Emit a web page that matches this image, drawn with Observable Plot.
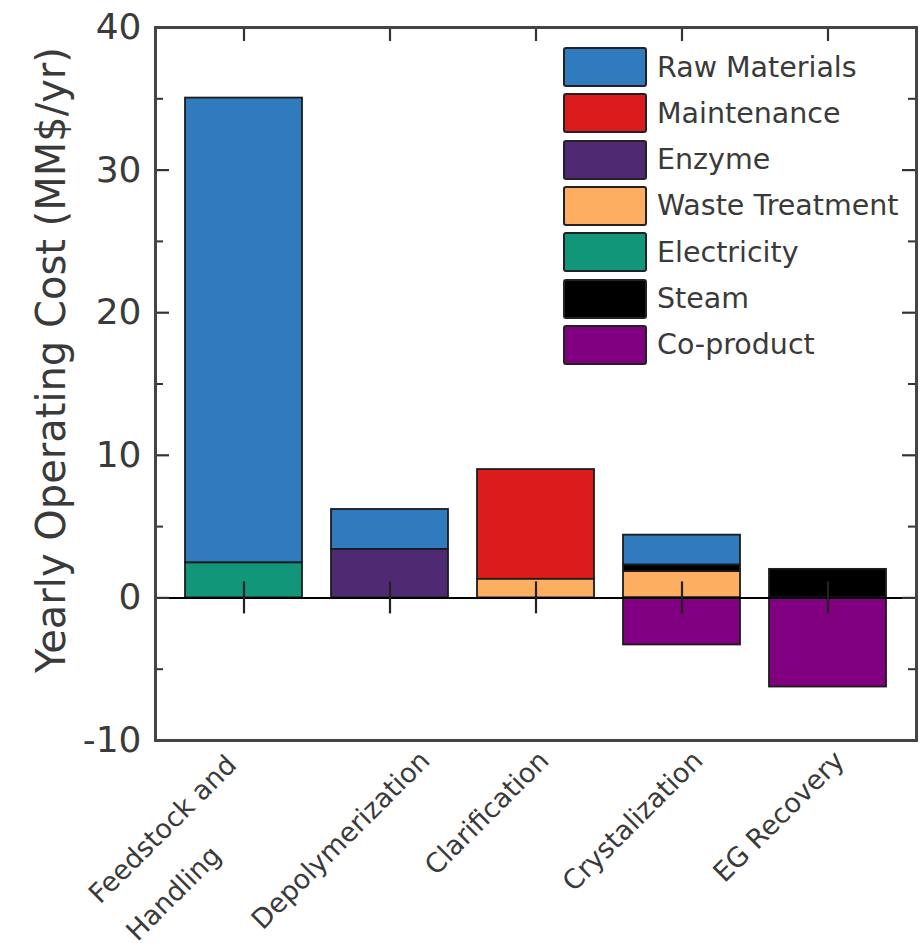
<!DOCTYPE html>
<html><head><meta charset="utf-8">
<script src="https://cdn.jsdelivr.net/npm/d3@7"></script>
<script src="https://cdn.jsdelivr.net/npm/@observablehq/plot@0.6"></script>
<style>
body{margin:0;background:#fff;}
#wrap{position:relative;width:923px;height:946px;font-family:"DejaVu Sans";}
</style>
</head><body><div id="wrap"></div>
<script>
// ---- data ----
const stages = ["Feedstock and\nHandling", "Depolymerization", "Clarification", "Crystalization", "EG Recovery"];
const costTypes = ["Raw Materials", "Maintenance", "Enzyme", "Waste Treatment", "Electricity", "Steam", "Co-product"];
const costColors = ["#2f7bbd", "#dc1c1c", "#4e2a73", "#fdae61", "#12967a", "#000000", "#800080"];
const rawMaterials   = [32.6, 2.8, 0, 2.1, 0];
const maintenance    = [0, 0, 7.7, 0, 0];
const enzyme         = [0, 3.4, 0, 0, 0];
const wasteTreatment = [0, 0, 1.3, 1.85, 0];
const electricity    = [2.45, 0, 0, 0, 0];
const steam          = [0, 0, 0, 0.45, 2.0];
const coProduct      = [0, 0, 0, -3.3, -6.25];
const yTicks = [-10, 0, 10, 20, 30, 40];
const yMinorTicks = [-5, 5, 15, 25, 35];
const stackOrder = ["Electricity", "Enzyme", "Waste Treatment", "Steam", "Maintenance", "Raw Materials", "Co-product"];
const yLabel = "Yearly Operating Cost (MM$/yr)";

// ---- build table ----
const series = {
  "Raw Materials": rawMaterials, "Maintenance": maintenance, "Enzyme": enzyme,
  "Waste Treatment": wasteTreatment, "Electricity": electricity, "Steam": steam, "Co-product": coProduct
};
const rows = [];
for (const t of costTypes) series[t].forEach((v, i) => { if (v !== 0) rows.push({stage: stages[i], type: t, value: v}); });

// ---- layout ----
const W = 923, H = 946, mL = 155, mR = 7, mT = 27, mB = 206;
const plotW = W - mL - mR, plotH = H - mT - mB;
const textColor = "#3a3a3a", axisColor = "#333";
const labelSize = 27;
const ctx = document.createElement("canvas").getContext("2d");
function textWidth(s, size) { ctx.font = `${size}px "DejaVu Sans"`; return ctx.measureText(s).width; }

const labelMarks = stages.flatMap((s) => {
  const lines = s.split("\n");
  if (lines.length === 1) {
    const w = textWidth(s, labelSize);
    return [Plot.text([s], {x: d => d, text: d => d, frameAnchor: "bottom", rotate: -45, textAnchor: "middle", lineAnchor: "middle",
      dx: -49, dy: 6 + (w + labelSize) * 0.3535, fontSize: labelSize, fill: textColor})];
  }
  const offs = [[-81, 829 - 740], [-70, 893 - 740]];
  return lines.map((line, j) => Plot.text([s], {x: d => d, text: () => line, frameAnchor: "bottom", rotate: -45,
    textAnchor: "middle", lineAnchor: "middle", dx: offs[j][0], dy: offs[j][1], fontSize: labelSize, fill: textColor}));
});

const chart = Plot.plot({
  width: W, height: H, marginLeft: mL, marginRight: mR, marginTop: mT, marginBottom: mB,
  style: {fontFamily: "DejaVu Sans", color: textColor, background: "white"},
  x: {domain: stages, paddingInner: 0.2, paddingOuter: 0.2, axis: null},
  y: {domain: [-10, 40], axis: null},
  color: {domain: costTypes, range: costColors},
  marks: [
    Plot.barY(rows, {x: "stage", y: "value", fill: "type", order: stackOrder, stroke: "#1c1c1c", strokeWidth: 1.8}),
    Plot.ruleY([0], {stroke: "black", strokeWidth: 2}),
    Plot.ruleX(stages, {x: d => d, y1: 0, y2: 0, insetTop: 16, insetBottom: 16, stroke: "#222", strokeWidth: 2.2}),
    Plot.ruleX(stages, {x: d => d, insetBottom: plotH - 14, stroke: axisColor, strokeWidth: 2.2}),
    Plot.tickY(yTicks, {y: d => d, insetRight: plotW - 14, stroke: axisColor, strokeWidth: 2.2}),
    Plot.tickY(yTicks, {y: d => d, insetLeft: plotW - 14, stroke: axisColor, strokeWidth: 2.2}),
    Plot.tickY(yMinorTicks, {y: d => d, insetRight: plotW - 8, stroke: axisColor, strokeWidth: 2}),
    Plot.tickY(yMinorTicks, {y: d => d, insetLeft: plotW - 8, stroke: axisColor, strokeWidth: 2}),
    Plot.frame({stroke: "#444", strokeWidth: 3}),
    Plot.axisY({ticks: yTicks, tickSize: 0, tickPadding: 14, fontSize: 36, label: null, tickFormat: d => String(d), fill: textColor}),
    Plot.text([yLabel], {text: d => d, frameAnchor: "left", textAnchor: "middle", lineAnchor: "middle", rotate: -90,
      dx: -103, dy: -24, fontSize: 40, fill: textColor}),
    ...labelMarks
  ]
});

const wrap = document.getElementById("wrap");
wrap.appendChild(chart);

// ---- legend (inside plot, top right) ----
const legend = document.createElement("div");
legend.style.cssText = "position:absolute;left:563px;top:47px;";
costTypes.forEach((t, i) => {
  const row = document.createElement("div");
  row.style.cssText = `position:absolute;left:0;top:${i * 46.3}px;height:40px;display:flex;align-items:center;white-space:nowrap;`;
  const sw = document.createElement("div");
  sw.style.cssText = `width:84px;height:40px;box-sizing:border-box;background:${costColors[i]};border:2px solid #222;border-radius:3px;flex:none;`;
  const lab = document.createElement("span");
  lab.textContent = t;
  lab.style.cssText = `margin-left:10px;font-size:28.5px;color:${textColor};font-family:"DejaVu Sans";`;
  row.appendChild(sw); row.appendChild(lab);
  legend.appendChild(row);
});
wrap.appendChild(legend);
</script>
</body></html>
